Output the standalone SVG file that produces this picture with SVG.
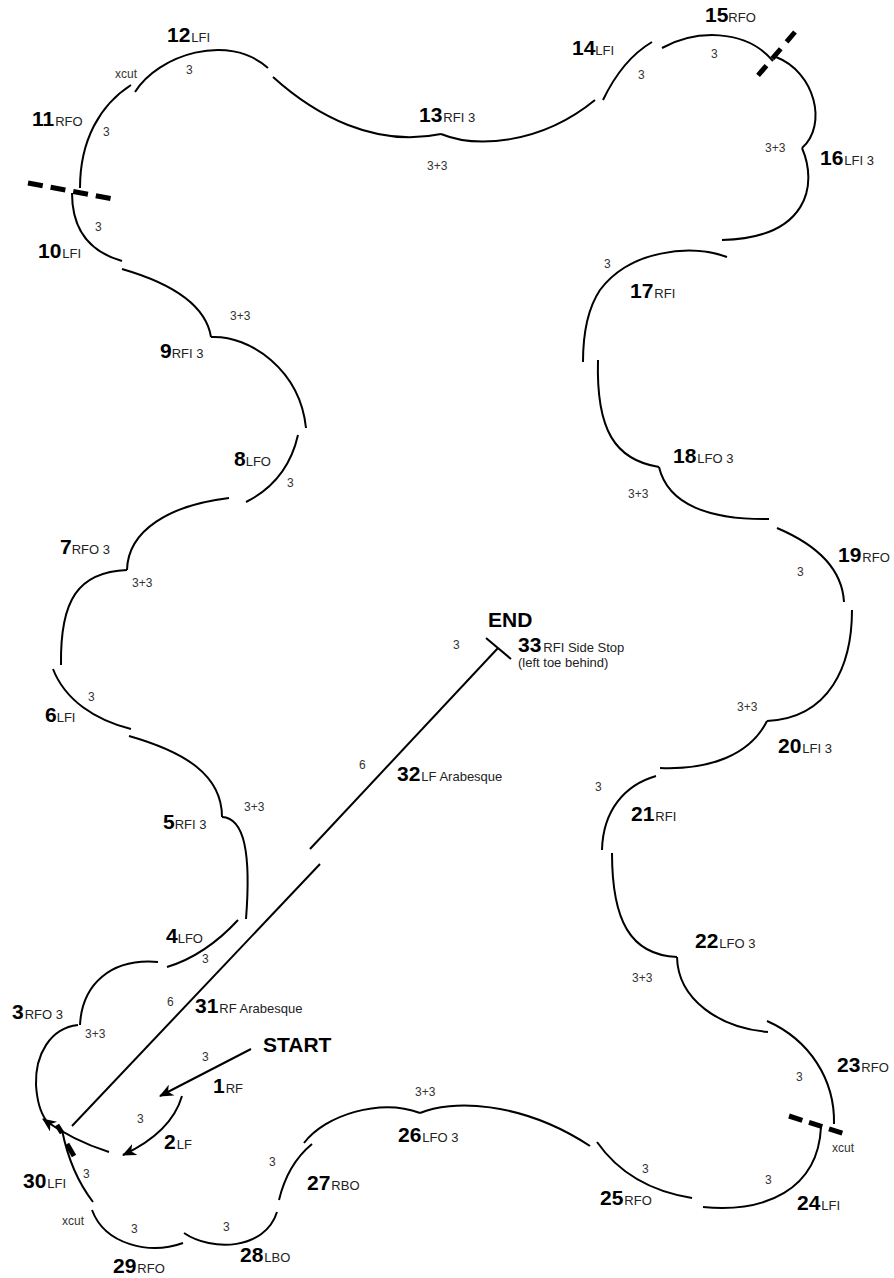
<svg xmlns="http://www.w3.org/2000/svg" width="894" height="1278" viewBox="0 0 894 1278">
<style>
.e{fill:none;stroke:#000;stroke-width:2}
.cut{fill:none;stroke:#000;stroke-width:5}
.n{font-family:"Liberation Sans",Arial,sans-serif;font-weight:bold;font-size:21px;fill:#000}
.s{font-weight:normal;font-size:13px;fill:#222}
.c{font-family:"Liberation Sans",Arial,sans-serif;font-size:12px;fill:#333}
.t{font-family:"Liberation Sans",Arial,sans-serif;font-size:13px;fill:#222}
</style>
<defs>
<marker id="arr" viewBox="0 0 14 12" refX="13" refY="6" markerWidth="14" markerHeight="12" markerUnits="userSpaceOnUse" orient="auto">
<path d="M0,0 L14,6 L0,12 L4,6 z" fill="#000"/>
</marker>
</defs>
<rect width="894" height="1278" fill="#fff"/>

<g id="connectors">
<path class="e" d="M251,1049 L160,1096" marker-end="url(#arr)"/>
<path class="e" d="M182,1096 C175,1120 155,1140 123,1155" marker-end="url(#arr)"/>
<path class="e" d="M109,1152 C90,1146 65,1135 43,1119" marker-end="url(#arr)"/>
</g>

<g id="cut-marks">
<line class="cut" x1="28" y1="183" x2="113" y2="199" stroke-dasharray="15 8"/>
<line class="cut" x1="795" y1="32" x2="755" y2="79" stroke-dasharray="13 9"/>
<line class="cut" x1="789" y1="1116" x2="848" y2="1135" stroke-dasharray="14 7"/>
<line class="cut" x1="57" y1="1125" x2="62" y2="1133"/>
<line class="cut" x1="67" y1="1144" x2="74" y2="1156"/>
</g>

<g id="start"><text class="n" x="263" y="1052">START</text></g>
<g id="end"><text class="n" x="488" y="627">END</text></g>

<g id="step-1">
<text class="c" x="202" y="1061">3</text>
<text class="n" x="213" y="1093">1<tspan class="s" dx="1">RF</tspan></text>
</g>
<g id="step-2">
<text class="c" x="137" y="1123">3</text>
<text class="n" x="164" y="1149">2<tspan class="s" dx="1">LF</tspan></text>
</g>
<g id="step-3">
<path class="e" d="M158,962 C110,958 82,985 80,1025"/>
<path class="e" d="M78,1025 C50,1028 35,1055 36,1085 C37,1100 40,1112 46,1120"/>
<text class="n" x="12" y="1019">3<tspan class="s" dx="1">RFO 3</tspan></text>
<text class="c" x="85" y="1038">3+3</text>
</g>
<g id="step-4">
<path class="e" d="M238,920 C215,945 190,960 167,967"/>
<text class="n" x="166" y="943">4<tspan class="s" dx="0">LFO</tspan></text>
<text class="c" x="202" y="963">3</text>
</g>
<g id="step-5">
<path class="e" d="M129,736 C185,752 222,775 222,817"/>
<path class="e" d="M222,817 C245,818 251,855 246,919"/>
<text class="n" x="163" y="829">5<tspan class="s" dx="0">RFI 3</tspan></text>
<text class="c" x="244" y="811">3+3</text>
</g>
<g id="step-6">
<path class="e" d="M53,669 C65,700 95,720 131,729"/>
<text class="n" x="45" y="722">6<tspan class="s" dx="0">LFI</tspan></text>
<text class="c" x="88" y="701">3</text>
</g>
<g id="step-7">
<path class="e" d="M229,498 C170,505 128,530 127,570"/>
<path class="e" d="M127,570 C78,572 60,600 61,665"/>
<text class="n" x="60" y="554">7<tspan class="s" dx="0">RFO 3</tspan></text>
<text class="c" x="132" y="587">3+3</text>
</g>
<g id="step-8">
<path class="e" d="M298,435 C290,470 270,490 246,502"/>
<text class="n" x="234" y="466">8<tspan class="s" dx="0">LFO</tspan></text>
<text class="c" x="287" y="487">3</text>
</g>
<g id="step-9">
<path class="e" d="M122,269 C160,280 205,300 211,337"/>
<path class="e" d="M211,337 C250,335 300,370 306,428"/>
<text class="n" x="160" y="358">9<tspan class="s" dx="0">RFI 3</tspan></text>
<text class="c" x="230" y="320">3+3</text>
</g>
<g id="step-10">
<path class="e" d="M72,193 C72,230 90,252 122,261"/>
<text class="n" x="38" y="258">10<tspan class="s" dx="1">LFI</tspan></text>
<text class="c" x="95" y="231">3</text>
</g>
<g id="step-11">
<path class="e" d="M131,85 C100,105 80,140 80,188"/>
<text class="n" x="32" y="126">11<tspan class="s" dx="1">RFO</tspan></text>
<text class="c" x="103" y="136">3</text>
</g>
<g id="step-12">
<path class="e" d="M135,92 C158,55 228,32 268,68"/>
<text class="n" x="167" y="42">12<tspan class="s" dx="1">LFI</tspan></text>
<text class="c" x="186" y="74">3</text>
<text class="c" x="115" y="78">xcut</text>
</g>
<g id="step-13">
<path class="e" d="M273,77 C315,115 375,148 441,134"/>
<path class="e" d="M441,134 C475,148 540,145 595,100"/>
<text class="n" x="419" y="122">13<tspan class="s" dx="1">RFI 3</tspan></text>
<text class="c" x="427" y="170">3+3</text>
</g>
<g id="step-14">
<path class="e" d="M603,100 C615,75 630,55 652,42"/>
<text class="n" x="572" y="55">14<tspan class="s" dx="0">LFI</tspan></text>
<text class="c" x="638" y="79">3</text>
</g>
<g id="step-15">
<path class="e" d="M662,48 C695,30 745,28 773,61"/>
<text class="n" x="705" y="22">15<tspan class="s" dx="0">RFO</tspan></text>
<text class="c" x="711" y="58">3</text>
</g>
<g id="step-16">
<path class="e" d="M776,57 C815,72 828,125 802,148"/>
<path class="e" d="M802,148 C818,185 808,238 722,240"/>
<text class="n" x="820" y="165">16<tspan class="s" dx="1">LFI 3</tspan></text>
<text class="c" x="765" y="152">3+3</text>
</g>
<g id="step-17">
<path class="e" d="M727,257 C690,244 630,250 600,290 C588,308 583,335 583,362"/>
<text class="n" x="630" y="298">17<tspan class="s" dx="1">RFI</tspan></text>
<text class="c" x="604" y="268">3</text>
</g>
<g id="step-18">
<path class="e" d="M598,360 C596,430 615,460 659,467"/>
<path class="e" d="M659,467 C668,505 710,520 769,519"/>
<text class="n" x="673" y="463">18<tspan class="s" dx="1">LFO 3</tspan></text>
<text class="c" x="628" y="498">3+3</text>
</g>
<g id="step-19">
<path class="e" d="M777,528 C810,542 842,565 844,602"/>
<text class="n" x="838" y="562">19<tspan class="s" dx="1">RFO</tspan></text>
<text class="c" x="797" y="576">3</text>
</g>
<g id="step-20">
<path class="e" d="M852,610 C852,665 830,718 767,721"/>
<path class="e" d="M767,721 C750,755 710,770 660,768"/>
<text class="n" x="778" y="753">20<tspan class="s" dx="1">LFI 3</tspan></text>
<text class="c" x="737" y="711">3+3</text>
</g>
<g id="step-21">
<path class="e" d="M656,776 C625,785 603,810 602,850"/>
<text class="n" x="631" y="821">21<tspan class="s" dx="1">RFI</tspan></text>
<text class="c" x="595" y="791">3</text>
</g>
<g id="step-22">
<path class="e" d="M612,853 C612,920 630,955 677,957"/>
<path class="e" d="M677,957 C678,1000 720,1028 768,1032"/>
<text class="n" x="695" y="948">22<tspan class="s" dx="1">LFO 3</tspan></text>
<text class="c" x="632" y="982">3+3</text>
</g>
<g id="step-23">
<path class="e" d="M767,1021 C810,1040 835,1080 834,1124"/>
<text class="n" x="837" y="1072">23<tspan class="s" dx="1">RFO</tspan></text>
<text class="c" x="796" y="1081">3</text>
</g>
<g id="step-24">
<path class="e" d="M703,1207 C765,1213 818,1190 821,1127"/>
<text class="n" x="797" y="1210">24<tspan class="s" dx="1">LFI</tspan></text>
<text class="c" x="765" y="1184">3</text>
<text class="c" x="832" y="1152">xcut</text>
</g>
<g id="step-25">
<path class="e" d="M597,1142 C620,1175 655,1192 692,1198"/>
<text class="n" x="600" y="1205">25<tspan class="s" dx="1">RFO</tspan></text>
<text class="c" x="642" y="1173">3</text>
</g>
<g id="step-26">
<path class="e" d="M304,1143 C325,1115 380,1098 420,1113"/>
<path class="e" d="M420,1113 C450,1100 520,1100 590,1146"/>
<text class="n" x="398" y="1142">26<tspan class="s" dx="1">LFO 3</tspan></text>
<text class="c" x="415" y="1096">3+3</text>
</g>
<g id="step-27">
<path class="e" d="M279,1200 C285,1175 295,1158 312,1144"/>
<text class="n" x="307" y="1190">27<tspan class="s" dx="1">RBO</tspan></text>
<text class="c" x="269" y="1166">3</text>
</g>
<g id="step-28">
<path class="e" d="M184,1233 C212,1252 265,1250 277,1212"/>
<text class="n" x="240" y="1262">28<tspan class="s" dx="1">LBO</tspan></text>
<text class="c" x="223" y="1231">3</text>
</g>
<g id="step-29">
<path class="e" d="M92,1210 C105,1245 150,1255 183,1243"/>
<text class="n" x="113" y="1273">29<tspan class="s" dx="1">RFO</tspan></text>
<text class="c" x="131" y="1233">3</text>
</g>
<g id="step-30">
<path class="e" d="M93,1202 C80,1185 68,1160 62,1130"/>
<text class="n" x="23" y="1188">30<tspan class="s" dx="1">LFI</tspan></text>
<text class="c" x="83" y="1178">3</text>
<text class="c" x="62" y="1225">xcut</text>
</g>
<g id="step-31">
<path class="e" d="M320,864 L72,1126"/>
<text class="n" x="195" y="1013">31<tspan class="s" dx="1">RF Arabesque</tspan></text>
<text class="c" x="167" y="1006">6</text>
</g>
<g id="step-32">
<path class="e" d="M310,849 L498,648"/>
<text class="n" x="397" y="781">32<tspan class="s" dx="1">LF Arabesque</tspan></text>
<text class="c" x="359" y="769">6</text>
</g>
<g id="step-33">
<path class="e" d="M486,638 L511,659"/>
<text class="n" x="518" y="652">33<tspan class="s" dx="2">RFI Side Stop</tspan></text>
<text class="t" x="518" y="667">(left toe behind)</text>
<text class="c" x="453" y="649">3</text>
</g>
</svg>
